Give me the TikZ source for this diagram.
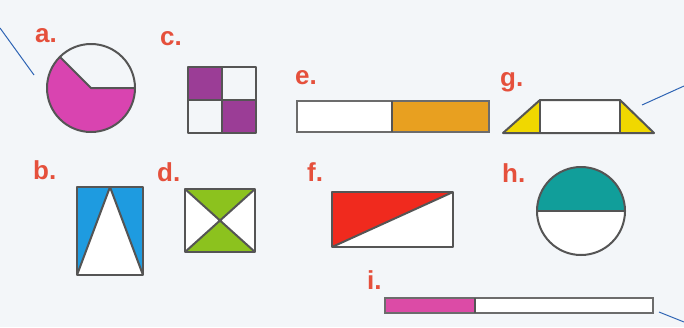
\documentclass[tikz,border=0pt]{standalone}
\usepackage{fontspec}
\usetikzlibrary{calc}
\setmainfont{Liberation Sans}
\definecolor{bg}{HTML}{F3F6F9}
\definecolor{lab}{HTML}{E5503C}
\definecolor{edge}{HTML}{555555}
\definecolor{lead}{HTML}{2E64B4}
\definecolor{cmag}{HTML}{D944B0}
\definecolor{cpur}{HTML}{9B3D96}
\definecolor{corg}{HTML}{E8A020}
\definecolor{cyel}{HTML}{F0D800}
\definecolor{cblu}{HTML}{1E9BE0}
\definecolor{cgrn}{HTML}{8CC21E}
\definecolor{cred}{HTML}{F02A1E}
\definecolor{cteal}{HTML}{119E9A}
\definecolor{cpink}{HTML}{DC4BA6}
\tikzset{
  lbl/.style={anchor=base west, inner sep=0pt, text=lab, font=\fontsize{26}{26}\selectfont\bfseries},
  shapeedge/.style={draw=edge, line width=2pt, line join=round},
  baredge/.style={draw=gray!85!black, line width=2.6pt},
  leader/.style={draw=lead, line width=1pt}
}
\begin{document}
\begin{tikzpicture}[x=1pt,y=-1pt]
\fill[bg] (0,0) rectangle (684,327);
\useasboundingbox (0,0) rectangle (684,327);

% labels
\node[lbl] (la) at (35,42) {a.};
\node[lbl] (lc) at (160,45) {c.};
\node[lbl] (le) at (295,84) {e.};
\node[lbl] (lg) at (500,86) {g.};
\node[lbl] (lb) at (33,179) {b.};
\node[lbl] (ld) at (157,181) {d.};
\node[lbl] (lf) at (307,181) {f.};
\node[lbl] (lh) at (502,182) {h.};
\node[lbl] (li) at (367,289) {i.};

% a: circle with 5/8 shaded
\fill[cmag] (91,88) -- (135,88) arc[start angle=0, end angle=225, radius=44] -- cycle;
\draw[shapeedge] (91,88) circle[radius=44];
\draw[shapeedge] (135,88) -- (91,88) -- ($(91,88)+(225:44)$);

% c: 2x2 grid
\fill[cpur] (188,67) rectangle (222,100);
\fill[cpur] (222,100) rectangle (256,133);
\draw[shapeedge] (188,67) rectangle (256,133);
\draw[shapeedge] (222,67) -- (222,133) (188,100) -- (256,100);

% e: bar
\fill[white] (297,101) rectangle (392,132);
\fill[corg] (392,101) rectangle (489,132);
\draw[baredge] (297,101) rectangle (489,132);
\draw[shapeedge] (392,101) -- (392,132);

% g: trapezoid
\fill[white] (540,100) rectangle (620,133);
\fill[cyel] (503,133) -- (540,100) -- (540,133) -- cycle;
\fill[cyel] (620,133) -- (620,100) -- (654,133) -- cycle;
\draw[shapeedge] (503,133) -- (540,100) -- (620,100) -- (654,133) -- cycle;
\draw[shapeedge] (540,100) -- (540,133) (620,100) -- (620,133);

% b: rectangle with white triangle
\fill[cblu] (77,187) rectangle (143,275);
\fill[white] (110,187) -- (143,275) -- (77,275) -- cycle;
\draw[shapeedge] (77,187) rectangle (143,275);
\draw[shapeedge] (77,275) -- (110,187) -- (143,275);

% d: hourglass
\fill[white] (185,189) rectangle (255,252);
\fill[cgrn] (185,189) -- (255,189) -- (220,220.5) -- cycle;
\fill[cgrn] (185,252) -- (255,252) -- (220,220.5) -- cycle;
\draw[shapeedge] (185,189) rectangle (255,252);
\draw[shapeedge] (185,189) -- (255,252) (255,189) -- (185,252);

% f: rectangle split by diagonal
\fill[white] (332,192) rectangle (453,247);
\fill[cred] (332,192) -- (453,192) -- (332,247) -- cycle;
\draw[shapeedge] (332,192) rectangle (453,247);
\draw[shapeedge] (332,247) -- (453,192);

% h: half circle
\fill[white] (581,211) circle[radius=44];
\fill[cteal] (537,211) arc[start angle=180, end angle=360, radius=44] -- cycle;
\draw[shapeedge] (581,211) circle[radius=44];
\draw[shapeedge] (537,211) -- (625,211);

% i: bar
\fill[white] (385,298) rectangle (653,313);
\fill[cpink] (385,298) rectangle (475,313);
\draw[baredge] (385,298) rectangle (653,313);
\draw[shapeedge] (475,298) -- (475,313);

% leader lines
\draw[leader] (0,28) -- (34,75);
\draw[leader] (642,105) -- (684,86);
\draw[leader] (659,312) -- (684,322);
\end{tikzpicture}
\end{document}
